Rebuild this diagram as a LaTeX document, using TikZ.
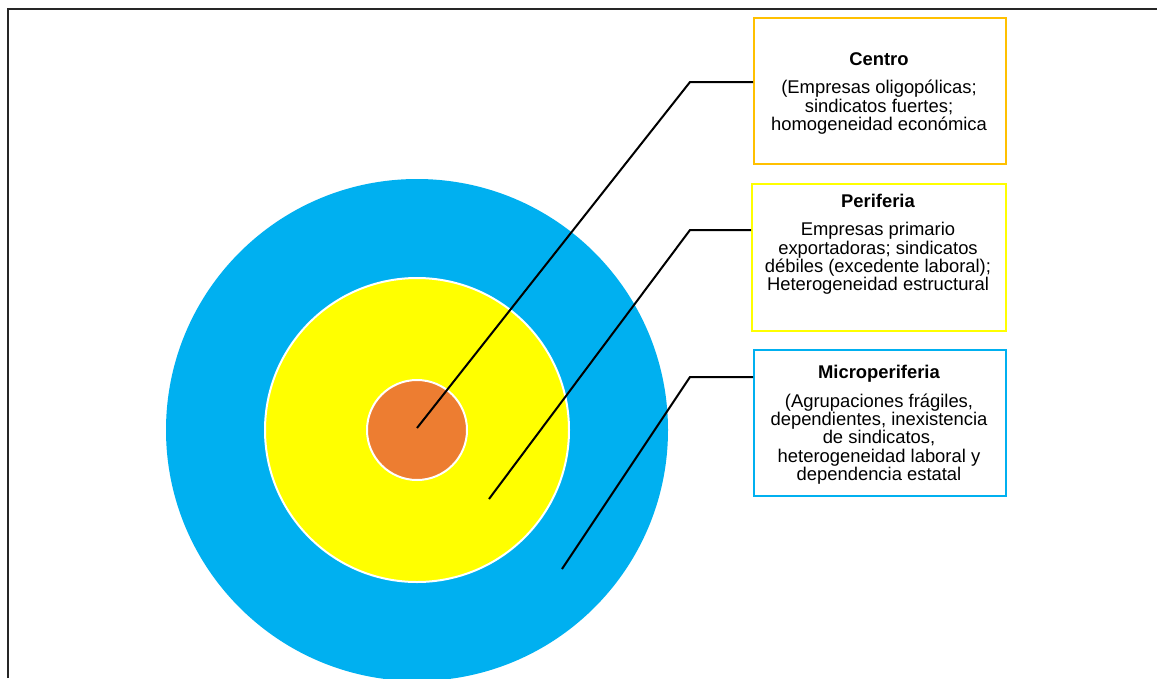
\documentclass[tikz,border=0pt]{standalone}
\usepackage{fontspec}
\setmainfont{Liberation Sans}
\definecolor{cblue}{HTML}{00B0F0}
\definecolor{cyel}{HTML}{FFFF00}
\definecolor{corange}{HTML}{ED7D31}
\definecolor{cgold}{HTML}{FFC000}
\begin{document}
\begin{tikzpicture}[x=1pt,y=-1pt,
  ring/.style={circle, draw=white, line width=2pt, inner sep=0pt},
  infobox/.style={rectangle, line width=1.5pt, minimum width=252pt, minimum height=146pt, anchor=north west, inner sep=0pt},
  infotext/.style={anchor=north, align=center, inner sep=0pt, font=\fontsize{18.4}{18.3}\selectfont},
  leader/.style={draw=black, line width=2pt}
]
\useasboundingbox (0,0) rectangle (1157,678);
\fill[white] (0,0) rectangle (1157,678);
\draw[line width=2pt, black!85] (8,678) -- (8,9) -- (1158,9);

% rings
\node[ring, draw=none, fill=cblue, minimum size=502pt] (micro) at (417,430) {};
\node[ring, fill=cyel, minimum size=304pt] (peri) at (417,430) {};
\node[ring, fill=corange, minimum size=100pt] (centro) at (417,430) {};

% boxes
\node[infobox, draw=cgold] (bc) at (753,17) {};
\node[infobox, draw=cyel, minimum width=254pt, minimum height=147pt] (bp) at (751,183) {};
\node[infobox, draw=cblue] (bm) at (753,349) {};

\node[infotext] (tc) at (879,52) {\textbf{Centro}\\[10.5pt](Empresas oligopólicas;\\sindicatos fuertes;\\homogeneidad económica};
\node[infotext] (tp) at (878,194) {\textbf{Periferia}\\[10pt]Empresas primario\\exportadoras; sindicatos\\débiles (excedente laboral);\\Heterogeneidad estructural};
\node[infotext] (tm) at (879,365) {\textbf{Microperiferia}\\[10.5pt](Agrupaciones frágiles,\\dependientes, inexistencia\\de sindicatos,\\heterogeneidad laboral y\\dependencia estatal};

% leaders
\coordinate (ec) at (417,428);
\coordinate (ep) at (489,499);
\coordinate (em) at (562,569);
\coordinate (kc) at (690,82);
\coordinate (kp) at (690,230);
\coordinate (km) at (690,377);
\draw[leader] (ec) -- (kc) -- (bc.west |- kc);
\draw[leader] (ep) -- (kp) -- (bp.west |- kp);
\draw[leader] (em) -- (km) -- (bm.west |- km);
\end{tikzpicture}
\end{document}
